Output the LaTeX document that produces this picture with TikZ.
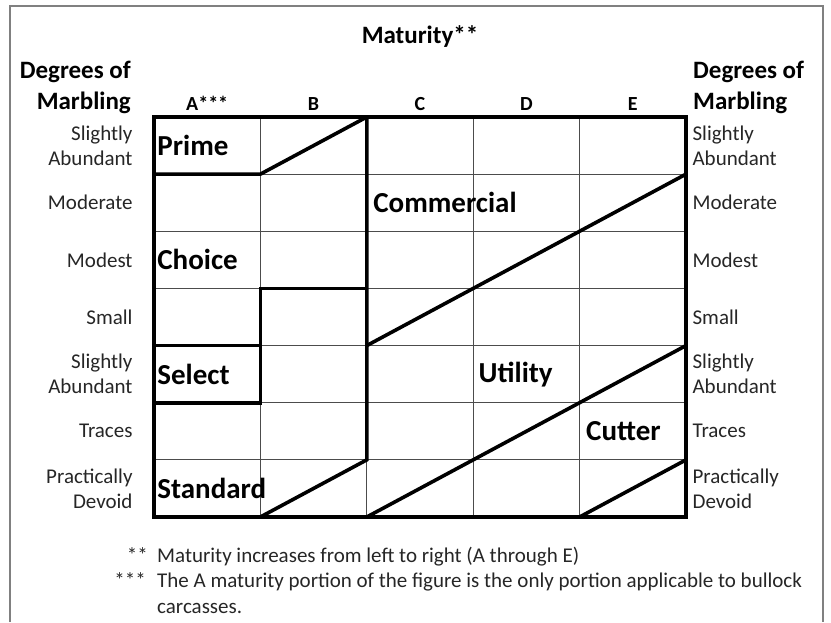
\documentclass[tikz,border=0pt]{standalone}
\usepackage{fontspec}
\setmainfont{Carlito}
\tikzset{
  usda frame/.style={draw=gray, line width=1.8pt},
  usda grid/.style={draw=black!70, line width=0.9pt},
  usda bound/.style={draw=black, line width=3.6pt},
  usda title/.style={font=\bfseries\fontsize{25}{30}\selectfont, inner sep=0pt},
  usda letter/.style={font=\bfseries\fontsize{20}{24}\selectfont, inner sep=0pt, anchor=base},
  usda marbling/.style={font=\fontsize{21}{25}\selectfont, text=black!85, align=right, anchor=east, inner sep=0pt},
  usda grade/.style={font=\bfseries\fontsize{29}{34}\selectfont, anchor=west, inner sep=0pt},
  usda note/.style={font=\fontsize{21}{25}\selectfont, text=black!85, inner sep=0pt}
}

\begin{document}
\begin{tikzpicture}[x=1pt, y=-1pt]
    \useasboundingbox (0,0) rectangle (831,622);
    % Frame, open at the bottom
    \draw [usda frame] (10,622) -- (10,6) -- (823,6) -- (823,622);

    % Headings
    \node [usda title] (Maturity) at (420,37) {Maturity**};
    \node [usda title, anchor=base east] (DegL) at (131,78) {Degrees of};
    \node [usda title, anchor=base east] (MarbL) at (131,109) {Marbling};
    \node [usda title, anchor=base west] (DegR) at (693,78) {Degrees of};
    \node [usda title, anchor=base west] (MarbR) at (693,109) {Marbling};

    \begin{scope}[shift={(154,117)}, x=106.4pt, y=-57.14pt]
    % Maturity columns
    \node [usda letter] (ColA) at (0.5,-0.12) {A***};
    \node [usda letter] (ColB) at (1.5,-0.12) {B};
    \node [usda letter] (ColC) at (2.5,-0.12) {C};
    \node [usda letter] (ColD) at (3.5,-0.12) {D};
    \node [usda letter] (ColE) at (4.5,-0.12) {E};

    % Marbling degrees, left side
    \node [usda marbling] (RowL1) at (-0.2,0.5) {Slightly\\Abundant};
    \node [usda marbling] (RowL2) at (-0.2,1.5) {Moderate};
    \node [usda marbling] (RowL3) at (-0.2,2.5) {Modest};
    \node [usda marbling] (RowL4) at (-0.2,3.5) {Small};
    \node [usda marbling] (RowL5) at (-0.2,4.5) {Slightly\\Abundant};
    \node [usda marbling] (RowL6) at (-0.2,5.5) {Traces};
    \node [usda marbling] (RowL7) at (-0.2,6.5) {Practically\\Devoid};

    % Marbling degrees, right side
    \node [usda marbling, align=left, anchor=west] (RowR1) at (5.06,0.5) {Slightly\\Abundant};
    \node [usda marbling, align=left, anchor=west] (RowR2) at (5.06,1.5) {Moderate};
    \node [usda marbling, align=left, anchor=west] (RowR3) at (5.06,2.5) {Modest};
    \node [usda marbling, align=left, anchor=west] (RowR4) at (5.06,3.5) {Small};
    \node [usda marbling, align=left, anchor=west] (RowR5) at (5.06,4.5) {Slightly\\Abundant};
    \node [usda marbling, align=left, anchor=west] (RowR6) at (5.06,5.5) {Traces};
    \node [usda marbling, align=left, anchor=west] (RowR7) at (5.06,6.5) {Practically\\Devoid};

    % Thin cell lines
    \draw [usda grid] (0,1) -- (5,1) (0,2) -- (5,2) (0,3) -- (5,3)
        (0,4) -- (5,4) (0,5) -- (5,5) (0,6) -- (5,6);
    \draw [usda grid] (1,0) -- (1,7) (2,0) -- (2,7) (3,0) -- (3,7) (4,0) -- (4,7);

    % Grade boundaries
    \draw [usda bound] (0,0) rectangle (5,7);
    \draw [usda bound] (0,1) -- (1,1) -- (2,0);
    \draw [usda bound] (2,0) -- (2,6) -- (1,7);
    \draw [usda bound] (2,3) -- (1,3) -- (1,5) -- (0,5);
    \draw [usda bound] (0,4) -- (1,4);
    \draw [usda bound] (2,4) -- (5,1);
    \draw [usda bound] (2,7) -- (5,4);
    \draw [usda bound] (4,7) -- (5,6);

    % Grade names
    \node [usda grade] (Prime) at (0.03,0.5) {Prime};
    \node [usda grade] (Commercial) at (2.06,1.5) {Commercial};
    \node [usda grade] (Choice) at (0.03,2.5) {Choice};
    \node [usda grade] (Select) at (0.03,4.5) {Select};
    \node [usda grade] (Utility) at (3.05,4.5) {Utility};
    \node [usda grade] (Cutter) at (4.06,5.5) {Cutter};
    \node [usda grade] (Standard) at (0.03,6.5) {Standard};
    \end{scope}

    % Footnotes
    \node [usda note, anchor=base east] (StarTwo) at (148,562) {**};
    \node [usda note, anchor=base west] (NoteTwo) at (157,562) {Maturity increases from left to right (A through E)};
    \node [usda note, anchor=base east] (StarThree) at (146,587) {***};
    \node [usda note, anchor=base west] (NoteThree) at (157,587) {The A maturity portion of the figure is the only portion applicable to bullock};
    \node [usda note, anchor=base west] (NoteThreeB) at (157,613) {carcasses.};
\end{tikzpicture}
\end{document}
